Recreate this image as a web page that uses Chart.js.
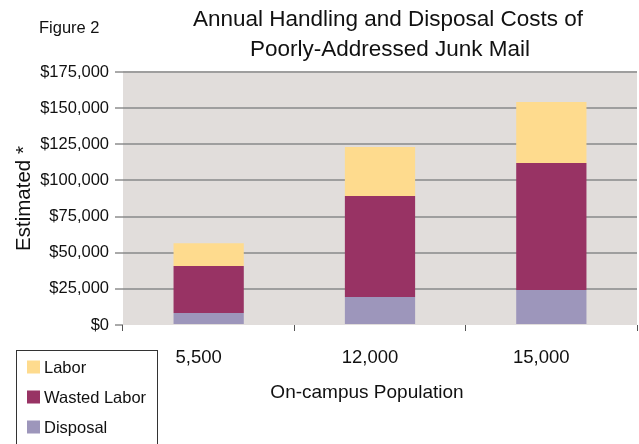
<!DOCTYPE html>
<html>
<head>
<meta charset="utf-8">
<script src="https://cdn.jsdelivr.net/npm/chart.js@4"></script>
<style>
  html, body { margin: 0; padding: 0; background: #fff; }
</style>
</head>
<body>
<canvas id="junkMailChart" width="639" height="444"></canvas>
<script>
// data
const populations = ['5,500', '12,000', '15,000'];
const disposal = [8300, 19400, 24200];
const wastedLabor = [32500, 69800, 87800];
const labor = [15700, 33900, 42300];
const yMax = 175000;
const yStep = 25000;

const titleLines = ['Annual Handling and Disposal Costs of', 'Poorly-Addressed Junk Mail'];
const figureLabel = 'Figure 2';
const xTitle = 'On-campus Population';
const yTitle = 'Estimated *';

const FONT = '"Liberation Sans", Arial, Helvetica, sans-serif';
Chart.defaults.font.family = FONT;
Chart.defaults.color = '#111';

// grey plot background
const plotBackground = {
    id: 'plotBackground',
    beforeDraw(chart) {
        const {ctx, chartArea: a} = chart;
        ctx.save();
        ctx.fillStyle = '#e1dddb';
        ctx.fillRect(a.left, a.top, a.right - a.left, a.bottom - a.top);
        ctx.restore();
    }
};

// titles and the boxed legend
const decorations = {
    id: 'decorations',
    afterDraw(chart) {
        const {ctx, chartArea: a} = chart;
        const mid = (a.left + a.right) / 2;
        ctx.save();
        ctx.fillStyle = '#111';
        ctx.textBaseline = 'middle';

        ctx.font = '16.5px ' + FONT;
        ctx.textAlign = 'left';
        ctx.fillText(figureLabel, 39, 28);

        ctx.font = '22.5px ' + FONT;
        ctx.textAlign = 'center';
        ctx.fillText(titleLines[0], mid + 8, 20);
        ctx.fillText(titleLines[1], mid + 10, 50);

        ctx.font = '19px ' + FONT;
        ctx.fillText(xTitle, mid - 13, 393);

        // legend
        ctx.strokeStyle = '#333';
        ctx.lineWidth = 1;
        ctx.strokeRect(16.5, 350.5, 141, 100);
        ctx.font = '16.5px ' + FONT;
        ctx.textAlign = 'left';
        const sets = chart.data.datasets.slice().reverse();
        sets.forEach(function (ds, i) {
            const y = 367 + i * 30;
            ctx.fillStyle = ds.backgroundColor;
            ctx.fillRect(27, y - 6.5, 13, 13);
            ctx.fillStyle = '#111';
            ctx.fillText(ds.label, 44, y + 1);
        });
        ctx.restore();
    }
};

new Chart(document.getElementById('junkMailChart'), {
    type: 'bar',
    data: {
        labels: populations,
        datasets: [
            { label: 'Disposal', data: disposal, backgroundColor: '#9d96bb' },
            { label: 'Wasted Labor', data: wastedLabor, backgroundColor: '#983364' },
            { label: 'Labor', data: labor, backgroundColor: '#fedb8e' }
        ]
    },
    options: {
        responsive: false,
        animation: false,
        layout: { padding: { top: 72, right: 2, left: 0, bottom: 0 } },
        datasets: { bar: { categoryPercentage: 1, barPercentage: 0.41 } },
        plugins: {
            legend: { display: false },
            title: { display: false }
        },
        scales: {
            x: {
                stacked: true,
                afterFit: function (scale) { scale.height = 119; },
                border: { display: false },
                grid: {
                    drawOnChartArea: false,
                    offset: true,
                    tickLength: 6,
                    color: '#555',
                    lineWidth: 1
                },
                ticks: {
                    font: { size: 18.5 },
                    color: '#111',
                    padding: 16,
                    labelOffset: -10
                }
            },
            y: {
                stacked: true,
                min: 0,
                max: yMax,
                afterFit: function (scale) { scale.width = 123; },
                border: { display: false },
                grid: {
                    color: function (c) { return c.tick && c.tick.value === 0 ? 'rgba(0,0,0,0)' : '#9e9e9e'; },
                    lineWidth: 2,
                    tickLength: 8,
                    tickColor: '#555',
                    tickWidth: 1
                },
                ticks: {
                    stepSize: yStep,
                    font: { size: 16.5 },
                    color: '#111',
                    padding: 6,
                    callback: function (v) { return '$' + v.toLocaleString('en-US'); }
                },
                title: {
                    display: true,
                    text: yTitle,
                    font: { size: 20.5 },
                    color: '#111',
                    padding: { top: 12, bottom: 0 }
                }
            }
        }
    },
    plugins: [plotBackground, decorations]
});
</script>
</body>
</html>
